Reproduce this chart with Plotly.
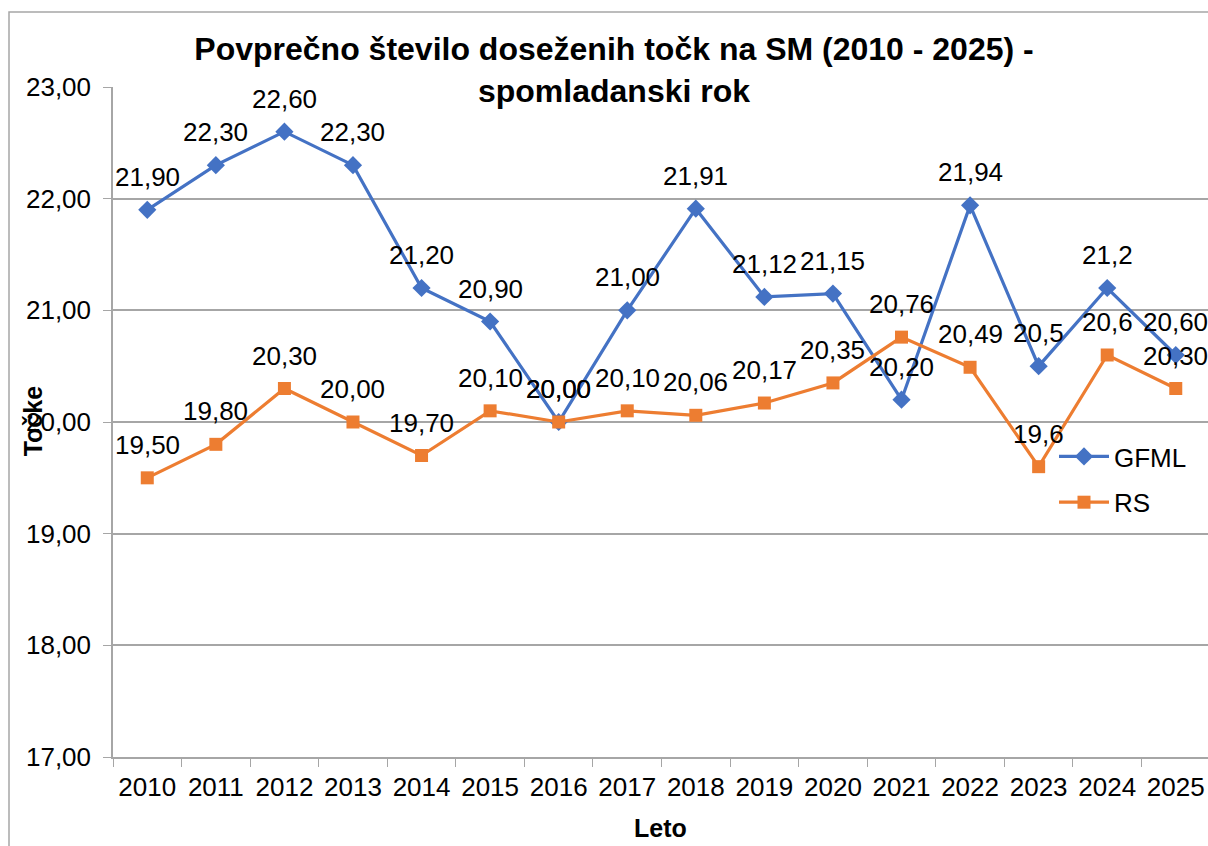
import plotly.graph_objects as go

years = ["2010", "2011", "2012", "2013", "2014", "2015", "2016", "2017",
         "2018", "2019", "2020", "2021", "2022", "2023", "2024", "2025"]
gfml = [21.90, 22.30, 22.60, 22.30, 21.20, 20.90, 20.00, 21.00,
        21.91, 21.12, 21.15, 20.20, 21.94, 20.5, 21.2, 20.60]
rs = [19.50, 19.80, 20.30, 20.00, 19.70, 20.10, 20.00, 20.10,
      20.06, 20.17, 20.35, 20.76, 20.49, 19.6, 20.6, 20.30]
gfml_labels = ["21,90", "22,30", "22,60", "22,30", "21,20", "20,90", "20,00", "21,00",
               "21,91", "21,12", "21,15", "20,20", "21,94", "20,5", "21,2", "20,60"]
rs_labels = ["19,50", "19,80", "20,30", "20,00", "19,70", "20,10", "20,00", "20,10",
             "20,06", "20,17", "20,35", "20,76", "20,49", "19,6", "20,6", "20,30"]

BLUE = "#4472C4"
ORANGE = "#ED7D31"
FONT = "Liberation Sans, Arial, sans-serif"
GRID = "#A6A6A6"

# body margin removed via post_script: figure sits at (0, 0)
W, H = 1208, 846
ML, MR, MT, MB = 113, 0, 87, 89
PW = W - ML - MR
PH = H - MT - MB

fig = go.Figure()
fig.add_trace(go.Scatter(
    x=years, y=gfml, name="GFML", mode="lines+markers",
    line=dict(color=BLUE, width=3.2),
    marker=dict(symbol="diamond", size=14, color=BLUE),
    legendgroup="a", cliponaxis=False,
))
fig.add_trace(go.Scatter(
    x=years, y=rs, name="RS", mode="lines+markers",
    line=dict(color=ORANGE, width=3.2),
    marker=dict(symbol="square", size=13, color=ORANGE),
    legendgroup="b", cliponaxis=False,
))

annotations = []
for ys, labels in ((gfml, gfml_labels), (rs, rs_labels)):
    for i, (yv, lab) in enumerate(zip(ys, labels)):
        annotations.append(dict(
            x=i, y=yv, xref="x", yref="y", text=lab, showarrow=False,
            yshift=33, xanchor="center", yanchor="middle",
            font=dict(size=26, color="black", family=FONT),
        ))

annotations += [
    dict(text="<b>Točke</b>", x=(33 - ML) / PW, y=0.501, xref="paper", yref="paper",
         textangle=-90, showarrow=False, font=dict(size=25), xanchor="center", yanchor="middle"),
    dict(text="<b>Leto</b>", x=(660 - ML) / PW, y=(PH - (828 - MT)) / PH, xref="paper", yref="paper",
         showarrow=False, font=dict(size=25), xanchor="center", yanchor="middle"),
]

fig.update_layout(
    width=W, height=H,
    margin=dict(l=ML, r=MR, t=MT, b=MB, autoexpand=False),
    paper_bgcolor="white", plot_bgcolor="white",
    separators=", ",
    font=dict(family=FONT, size=26, color="black"),
    title=dict(
        text="<b>Povprečno število doseženih točk na SM (2010 - 2025) -<br>spomladanski rok</b>",
        x=(614 - ML) / PW, xref="paper", xanchor="center",
        y=(H - 60) / H, yref="container", yanchor="middle",
        font=dict(size=32, family=FONT, color="black"),
    ),
    xaxis=dict(
        type="category", range=[-0.5, 15.47],
        showgrid=False, showline=True, linecolor=GRID, linewidth=1.5,
        ticks="outside", tickson="boundaries", ticklen=8, tickcolor=GRID,
        tickfont=dict(size=26), ticklabelstandoff=6, fixedrange=True,
    ),
    yaxis=dict(
        range=[17, 23], dtick=1, tickformat=".2f",
        showgrid=True, gridcolor=GRID, gridwidth=1.5,
        showline=True, linecolor=GRID, linewidth=1.5,
        ticks="outside", ticklen=8, tickcolor=GRID,
        tickfont=dict(size=26), ticklabelstandoff=7, zeroline=False,
    ),
    legend=dict(
        x=(1054 - ML) / PW, y=(PH - (433 - MT)) / PH, xanchor="left", yanchor="top",
        bgcolor="rgba(0,0,0,0)", font=dict(size=26),
        itemwidth=50, tracegroupgap=9, traceorder="grouped",
    ),
    annotations=annotations,
    shapes=[
        dict(type="rect", xref="paper", yref="paper",
             x0=(9 - ML) / PW, x1=1.05, y0=-0.2, y1=(PH + (MT - 12)) / PH,
             line=dict(color=GRID, width=1.5), fillcolor="rgba(0,0,0,0)", layer="below"),
    ],
    showlegend=True,
)

fig.write_html(
    "out.html",
    config={"displayModeBar": False},
    post_script="document.body.style.margin='0';document.body.style.overflow='hidden';",
)
